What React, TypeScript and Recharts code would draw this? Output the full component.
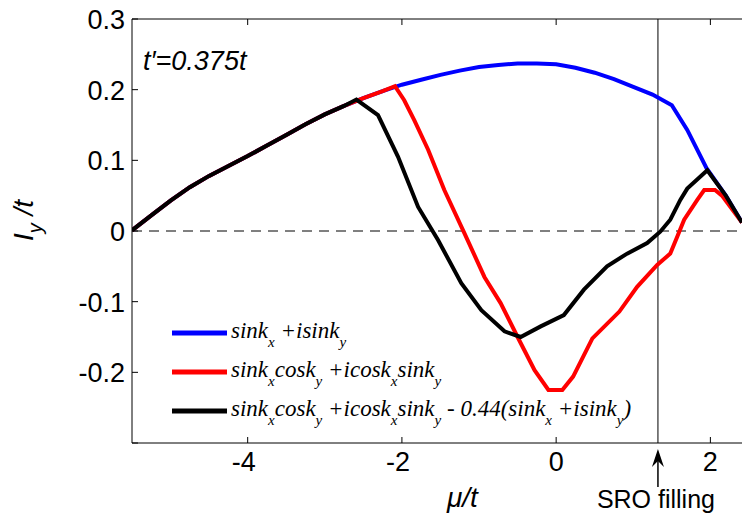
import React from "react";
import { LineChart, Line, XAxis, YAxis, ReferenceLine } from "recharts";

// sink_x + i sink_y
const blueMu = [-5.5, -5.25, -5, -4.75, -4.5, -4.25, -4, -3.75, -3.5, -3.25, -3, -2.75, -2.5, -2.25, -2, -1.75, -1.5, -1.25, -1, -0.75, -0.5, -0.25, 0, 0.25, 0.5, 0.75, 1, 1.25, 1.5, 1.7, 1.95, 2.2, 2.41];
const blueIy = [0.001, 0.022, 0.043, 0.062, 0.078, 0.092, 0.106, 0.121, 0.136, 0.151, 0.165, 0.177, 0.188, 0.198, 0.207, 0.214, 0.221, 0.227, 0.232, 0.235, 0.237, 0.237, 0.236, 0.231, 0.224, 0.215, 0.204, 0.193, 0.178, 0.143, 0.089, 0.05, 0.012];

// sink_x cosk_y + i cosk_x sink_y
const redMu = [-5.5, -5.25, -5, -4.75, -4.5, -4.25, -4, -3.75, -3.5, -3.25, -3, -2.75, -2.5, -2.25, -2.09, -1.97, -1.84, -1.66, -1.45, -1.19, -0.93, -0.72, -0.5, -0.28, -0.1, 0.08, 0.22, 0.47, 0.82, 1.05, 1.31, 1.48, 1.57, 1.66, 1.83, 1.92, 2.06, 2.15, 2.41];
const redIy = [0.001, 0.022, 0.043, 0.062, 0.078, 0.092, 0.106, 0.121, 0.136, 0.151, 0.165, 0.177, 0.188, 0.198, 0.205, 0.185, 0.157, 0.115, 0.058, -0.003, -0.065, -0.102, -0.15, -0.197, -0.225, -0.225, -0.206, -0.152, -0.114, -0.079, -0.048, -0.032, -0.008, 0.016, 0.044, 0.058, 0.058, 0.05, 0.012];

// red - 0.44 * blue
const blackMu = [-5.5, -5.25, -5, -4.75, -4.5, -4.25, -4, -3.75, -3.5, -3.25, -3, -2.75, -2.59, -2.31, -2.05, -1.79, -1.53, -1.23, -0.97, -0.67, -0.46, -0.2, 0.1, 0.36, 0.66, 0.92, 1.18, 1.35, 1.48, 1.61, 1.7, 1.96, 2.2, 2.41];
const blackIy = [0.001, 0.022, 0.043, 0.062, 0.078, 0.092, 0.106, 0.121, 0.136, 0.151, 0.165, 0.177, 0.186, 0.164, 0.105, 0.034, -0.013, -0.074, -0.112, -0.142, -0.15, -0.135, -0.119, -0.083, -0.05, -0.032, -0.017, -0.001, 0.016, 0.044, 0.06, 0.086, 0.05, 0.012];

const xTicks = [-4, -2, 0, 2];
const yTicks = [-0.3, -0.2, -0.1, 0, 0.1, 0.2, 0.3];
const sroFilling = 1.32;

const zip = (xs: number[], ys: number[]) => xs.map((mu, i) => ({ mu, iy: ys[i] }));
const blueData = zip(blueMu, blueIy);
const redData = zip(redMu, redIy);
const blackData = zip(blackMu, blackIy);

const X_MIN = -5.5;
const X_MAX = 2.41;
const PLOT_LEFT = 132;
const PLOT_RIGHT = 742;
const PLOT_BOTTOM = 443;
const sans = "'Liberation Sans', Arial, sans-serif";
const serif = "'Liberation Serif', 'Times New Roman', serif";

const BottomTick = (props: any) => {
  const { x, y, payload } = props;
  const v = payload.value;
  return (
    <g>
      <line x1={x} x2={x} y1={y} y2={y - 6} stroke="#000" />
      <text x={x + (v < 0 ? -4 : 0)} y={y + 28} textAnchor="middle" fontSize={27} fontFamily={sans} fill="#000">
        {v}
      </text>
    </g>
  );
};

const TopTick = (props: any) => {
  const { x, y } = props;
  return <line x1={x} x2={x} y1={y} y2={y + 6} stroke="#000" />;
};

const LeftTick = (props: any) => {
  const { x, y, payload } = props;
  const v = payload.value;
  return (
    <g>
      <line x1={x} x2={x + 6} y1={y} y2={y} stroke="#000" />
      {v > -0.25 && (
        <text x={x - 7} y={y + 10} textAnchor="end" fontSize={27} fontFamily={sans} fill="#000">
          {String(v)}
        </text>
      )}
    </g>
  );
};

// one legend entry: text parts, subscripts marked with sub
type Part = { t: string; sub?: boolean };
const LegendRow = ({ y, color, parts }: { y: number; color: string; parts: Part[] }) => (
  <g>
    <line x1={172} x2={227} y1={y} y2={y} stroke={color} strokeWidth={5} />
    <text x={231} y={y + 5} fontSize={23} fontStyle="italic" fontFamily={serif} fill="#000">
      {parts.map((p, i) => {
        const prevSub = i > 0 && parts[i - 1].sub;
        const dy = p.sub ? 9 : prevSub ? -9 : 0;
        return (
          <tspan key={i} dy={dy} fontSize={p.sub ? 15 : 23}>
            {p.t}
          </tspan>
        );
      })}
    </text>
  </g>
);

const blueLabel: Part[] = [{ t: "sink" }, { t: "x", sub: true }, { t: " +isink" }, { t: "y", sub: true }];
const redLabel: Part[] = [
  { t: "sink" }, { t: "x", sub: true }, { t: "cosk" }, { t: "y", sub: true },
  { t: " +icosk" }, { t: "x", sub: true }, { t: "sink" }, { t: "y", sub: true },
];
const blackLabel: Part[] = [
  ...redLabel,
  { t: " - 0.44(sink" }, { t: "x", sub: true }, { t: " +isink" }, { t: "y", sub: true }, { t: ")" },
];

export default function App() {
  const sroX = PLOT_LEFT + ((sroFilling - X_MIN) / (X_MAX - X_MIN)) * (PLOT_RIGHT - PLOT_LEFT);
  return (
    <div style={{ position: "absolute", left: 0, top: 0, width: 742, height: 517, background: "#fff" }}>
      <LineChart width={742} height={517} margin={{ top: 18, right: 0, left: 0, bottom: 0 }}>
        <XAxis
          type="number"
          dataKey="mu"
          domain={[X_MIN, X_MAX]}
          ticks={xTicks}
          allowDataOverflow
          height={74}
          tickSize={0}
          tickMargin={0}
          tickLine={false}
          axisLine={{ stroke: "#000" }}
          tick={BottomTick}
        />
        <XAxis
          xAxisId="top"
          orientation="top"
          type="number"
          dataKey="mu"
          domain={[X_MIN, X_MAX]}
          ticks={xTicks}
          allowDataOverflow
          height={1}
          tickSize={0}
          tickMargin={0}
          tickLine={false}
          axisLine={{ stroke: "#000" }}
          tick={TopTick}
        />
        <YAxis
          type="number"
          domain={[-0.3, 0.3]}
          ticks={yTicks}
          allowDataOverflow
          width={132}
          tickSize={0}
          tickMargin={0}
          tickLine={false}
          axisLine={{ stroke: "#000" }}
          tick={LeftTick}
        />
        <ReferenceLine y={0} stroke="#000" strokeWidth={1} strokeDasharray="10 7" />
        <ReferenceLine x={sroFilling} stroke="#000" strokeWidth={1} />
        <Line data={blueData} dataKey="iy" stroke="#0000ff" strokeWidth={4} dot={false} isAnimationActive={false} />
        <Line data={redData} dataKey="iy" stroke="#ff0000" strokeWidth={4} dot={false} isAnimationActive={false} />
        <Line data={blackData} dataKey="iy" stroke="#000000" strokeWidth={4} dot={false} isAnimationActive={false} />

        <text x={143} y={70} fontSize={27} fontStyle="italic" fontFamily={sans} fill="#000">
          t′=0.375t
        </text>
        <LegendRow y={333} color="#0000ff" parts={blueLabel} />
        <LegendRow y={372} color="#ff0000" parts={redLabel} />
        <LegendRow y={411} color="#000000" parts={blackLabel} />

        <text x={447} y={507} fontSize={28} fontStyle="italic" fontFamily={sans} fill="#000">
          μ/t
        </text>
        <text x={33} y={241} transform="rotate(-90, 33, 241)" fontSize={28} fontStyle="italic" fontFamily={sans} fill="#000">
          I<tspan dy={9} fontSize={20}>y</tspan>
          <tspan dy={-9}> /t</tspan>
        </text>

        <line x1={sroX} x2={sroX} y1={PLOT_BOTTOM + 44} y2={PLOT_BOTTOM + 14} stroke="#000" strokeWidth={1.5} />
        <path
          d={`M${sroX},${PLOT_BOTTOM + 6} L${sroX - 6},${PLOT_BOTTOM + 24} L${sroX},${PLOT_BOTTOM + 18} L${sroX + 6},${PLOT_BOTTOM + 24} Z`}
          fill="#000"
        />
        <text x={sroX - 2} y={508} textAnchor="middle" fontSize={25} fontFamily={sans} fill="#000">
          SRO filling
        </text>
      </LineChart>
    </div>
  );
}
